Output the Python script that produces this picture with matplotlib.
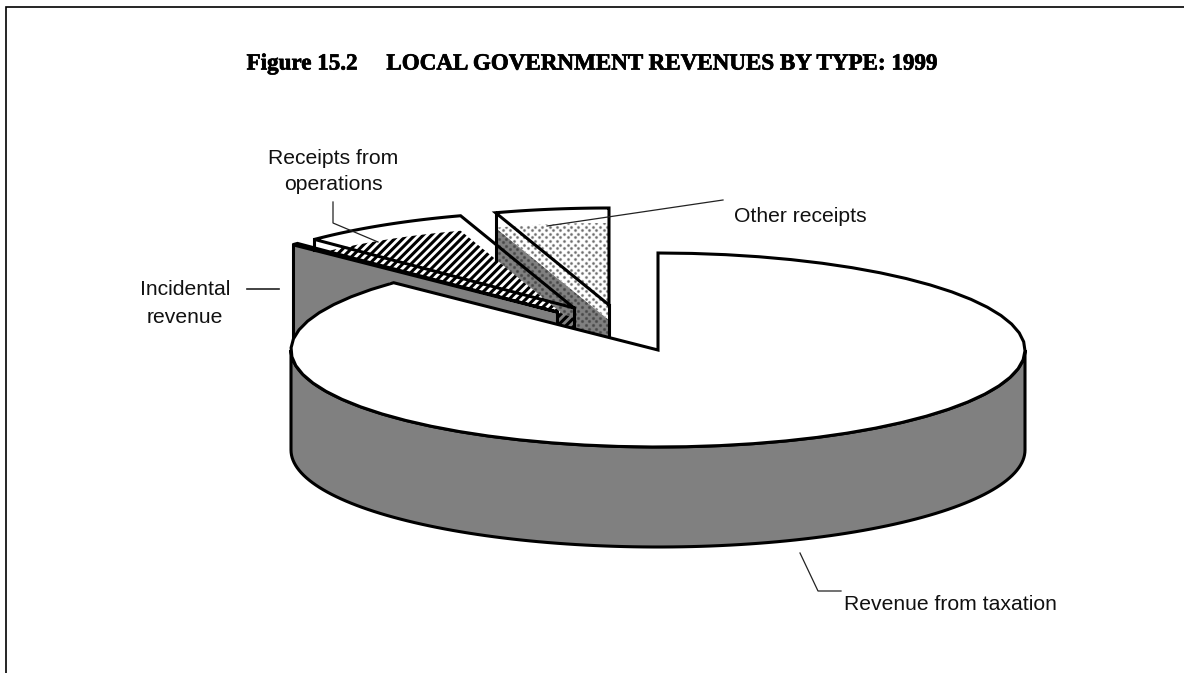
import numpy as np
import matplotlib
matplotlib.use("Agg")
import matplotlib.pyplot as plt
import matplotlib.patheffects as pe
from matplotlib.patches import Polygon

# ---- data ----
categories = ["Revenue from taxation", "Other receipts", "Receipts from operations", "Incidental revenue"]
shares = [87.2, 5.0, 7.5, 0.3]
title = "Figure 15.2     LOCAL GOVERNMENT REVENUES BY TYPE: 1999"

# ---- geometry / style ----
W, H = 1184, 673
CX, CY, RX, RY, DEPTH = 658, 350, 367, 97, 100
SLICE_CENTERS = {"Other receipts": (609, 305), "Receipts from operations": (574, 308), "Incidental revenue": (557, 312)}
SHIFT = 15
GRAY = "#808080"

fig = plt.figure(figsize=(W / 100, H / 100), dpi=100)
ax = fig.add_axes([0, 0, 1, 1])
ax.set_xlim(0, W)
ax.set_ylim(H, 0)
ax.axis("off")


def pt(a, c, rx=RX, ry=RY):
    r = np.radians(a)
    return np.array([c[0] + rx * np.cos(r), c[1] - ry * np.sin(r)])


def arc(a0, a1, c):
    t = np.linspace(a0, a1, 60)
    return np.array([pt(x, c) for x in t])


def front_y(x, a_edge):
    end = pt(a_edge, (CX, CY))
    return CY + (x - CX) * (end[1] - CY) / (end[0] - CX)


def poly(xy, **kw):
    p = Polygon(xy, closed=True, **kw)
    ax.add_patch(p)
    return p


def dot_texture(patch, layers, step=7.2):
    """Staggered dot screen, clipped to a patch."""
    ext = patch.get_xy()
    x0, x1 = ext[:, 0].min() - step, ext[:, 0].max() + step
    y0, y1 = ext[:, 1].min() - step, ext[:, 1].max() + step
    gx, gy = [], []
    for i, y in enumerate(np.arange(y0, y1, step / 2)):
        xs = np.arange(x0 + (i % 2) * step / 2, x1, step)
        gx.extend(xs)
        gy.extend([y] * len(xs))
    for size, col in layers:
        s = ax.scatter(gx, gy, s=size, c=col, linewidths=0, zorder=patch.get_zorder())
        s.set_clip_path(patch)


# slice angles, anticlockwise from 12 o'clock
a = 90.0
angles = {}
for name in ["Other receipts", "Receipts from operations", "Incidental revenue"]:
    v = shares[categories.index(name)]
    angles[name] = (a, a + 3.6 * v)
    a += 3.6 * v
edge = a

lw = 2.2
# --- other receipts ---
a0, a1 = angles["Other receipts"]
c = SLICE_CENTERS["Other receipts"]
cs = (c[0], c[1] + SHIFT)
left = pt(a1, cs)
p1 = poly([left, cs, (c[0], front_y(c[0], edge)), (left[0], front_y(left[0], edge))],
          facecolor=GRAY, lw=0, zorder=1)
dot_texture(p1, [(6, "#646464"), (2.5, "#484848")])
p2 = poly(np.vstack([[cs], arc(a0, a1, cs)]), facecolor="white", lw=0, zorder=1)
dot_texture(p2, [(6.5, "#d4d4d4"), (2.8, "#6e6e6e")])

# --- receipts from operations ---
r0, r1 = angles["Receipts from operations"]
d = SLICE_CENTERS["Receipts from operations"]
ds = (d[0], d[1] + SHIFT)
e = SLICE_CENTERS["Incidental revenue"]
plt.rcParams["hatch.linewidth"] = 2.2
poly(np.vstack([[ds], arc(r0, r1, ds)]), facecolor="white", edgecolor="black", hatch="////", lw=0, zorder=2)
poly([(d[0], d[1] + 10), (d[0], front_y(d[0], edge)), (e[0], front_y(e[0], edge)), (e[0], e[1])],
     facecolor=GRAY, edgecolor="black", hatch="////", lw=0, zorder=2)

# --- incidental revenue ---
i0, i1 = angles["Incidental revenue"]
il = pt(i1, e)
poly([il, e, (e[0], front_y(e[0], edge)), (CX - RX * 0.73, front_y(CX - RX * 0.73, edge)), (il[0], CY + 10)],
     facecolor=GRAY, edgecolor="none", lw=0, zorder=3)

# --- outlines of the lifted slices ---
for name, col in [("Other receipts", c), ("Receipts from operations", d), ("Incidental revenue", e)]:
    s0, s1 = angles[name]
    outline = np.vstack([[col], arc(s0, s1, col), [col]])
    ax.plot(outline[:, 0], outline[:, 1], color="black", lw=lw, solid_joinstyle="miter", zorder=4)
    ax.plot([col[0], col[0]], [col[1], front_y(col[0], edge)], color="black", lw=lw, zorder=4)
    p = pt(s1, col)
    stop = {"Other receipts": 260, "Receipts from operations": 250, "Incidental revenue": CY}[name]
    ax.plot([p[0], p[0]], [p[1], stop], color="black", lw=lw, zorder=4)

# --- taxation: wall then top ---
t = np.linspace(180, 360, 120)
lower = np.array([pt(x, (CX, CY)) for x in t])
wall = np.vstack([lower, (lower + [0, DEPTH])[::-1]])
poly(wall, facecolor=GRAY, edgecolor="black", lw=lw, zorder=5)
top = np.vstack([[(CX, CY)], arc(edge, 450, (CX, CY))])
poly(top, facecolor="white", edgecolor="black", lw=lw, zorder=6, joinstyle="miter")

# --- leader lines ---
leaders = [([547, 723], [226, 200], 0.9),
           ([333, 333, 378], [202, 223, 242], 0.9),
           ([247, 279], [289, 289], 1.2),
           ([800, 818, 841], [553, 591, 591], 0.9)]
for xs, ys, w in leaders:
    ax.plot(xs, ys, color="#222222", lw=w, zorder=7)

# --- text ---
sans = "Liberation Sans"
ax.text(591.5, 64, title, family="Liberation Serif", weight="bold", fontsize=16.6, ha="center", va="center",
        path_effects=[pe.withStroke(linewidth=0.5, foreground="black")])
ax.text(734, 216, categories[1], family=sans, fontsize=15.2, ha="left", va="center", color="#111111")
ax.text(333, 171.5, "Receipts from\noperations", family=sans, fontsize=15.2, ha="center", va="center", linespacing=1.5, color="#111111")
ax.text(185, 303.5, "Incidental\nrevenue", family=sans, fontsize=15.2, ha="center", va="center", linespacing=1.66, color="#111111")
ax.text(844, 604.5, categories[0], family=sans, fontsize=15.2, ha="left", va="center", color="#111111")

# --- frame ---
ax.plot([6, 6, W], [H, 6.7, 6.7], color="black", lw=1.2, zorder=8, solid_joinstyle="miter")

fig.savefig("out.png", dpi=100)
